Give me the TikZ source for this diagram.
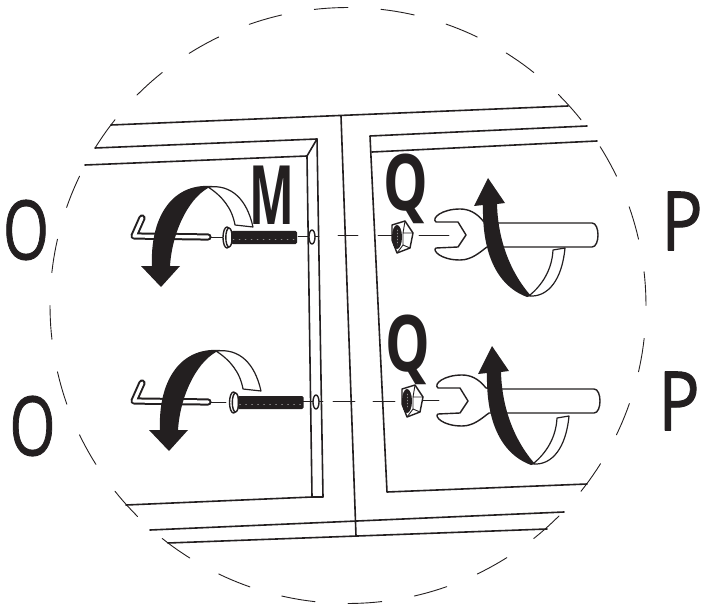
\documentclass[tikz,border=0pt]{standalone}
\usepackage{fontspec}
\setmainfont{Open Sans}
\newfontfamily\labelfont{Open Sans}[RawFeature={embolden=1.2}]
\definecolor{ink}{HTML}{231F20}
\begin{document}
\begin{tikzpicture}[x=1pt, y=-1pt, line cap=round, line join=round,
		frameline/.style={draw=ink, line width=1.6pt},
		thinline/.style={draw=ink, line width=0.9pt},
		part/.style={draw=ink, line width=1.4pt, fill=white},
		letter/.style={text=ink, inner sep=0pt, font=\fontsize{82}{82}\labelfont},
		boldletter/.style={text=ink, inner sep=0pt, font=\fontsize{78}{78}\selectfont\bfseries}]
	\useasboundingbox (0,0) rectangle (704,604);
	
	% Dashed circle
	\foreach \n [evaluate=\n as \astart using {-96.5+\n*12.857}, evaluate=\n as \aend using {-90+\n*12.857}] in {0,...,27}
		\draw[thinline, shift={(348,305.5)}, domain=\astart:\aend, samples=6] plot(\x:298);
	
	% Frame
	\draw[frameline] (111,125) -- (568,106);
	\draw[frameline] (95,148) -- (317,139) -- (323,497) -- (312,497) -- (126,505);
	\draw[frameline] (85,165) -- (307,156) -- (312,497);
	\draw[frameline] (307,156) -- (317,139);
	\draw[frameline] (341,116) -- (356,536);
	\draw[frameline] (587,126) -- (370,136) -- (387,492) -- (587,484);
	\draw[frameline] (372,152) -- (597,141);
	\draw[frameline] (150,530) -- (564,512);
	\draw[frameline] (168,543) -- (547,529);
	
	% Key, bolt and hole
	\foreach \kdy/\bdx/\bdy/\hdx in {0/0/0/0, 165/6.5/165/4} {
		\begin{scope}[yshift=-\kdy pt]
			\draw[thinline] (208,237) -- (226,237);
			\draw[ink, line width=2pt, double=white, double distance=3.2pt] (142,218) -- (134,236) -- (208,237);
		\end{scope}
		\begin{scope}[shift={(\bdx,\bdy)}]
			\draw[part] (227,237.5) ellipse (4 and 10.5);
			\draw[part] (229,237.5) ellipse (3.2 and 9.5);
			\fill[ink, rounded corners=1.5pt] (231,231) rectangle (297,244);
			\draw[white!50!ink, line width=0.5pt, dash pattern=on 1pt off 5pt] (233,239) -- (295,239);
		\end{scope}
		\begin{scope}[shift={(\hdx,\bdy)}]
			\draw[thinline] (298,236) -- (319,236);
			\draw[part] (312,237) ellipse (3 and 7);
		\end{scope}
	}
	\draw[thinline] (338,235.5) -- (358,235.5);
	\draw[thinline] (333,401) -- (355,401);
	
	% Nut
	\draw[thinline] (378,235) -- (393,235);
	\draw[thinline] (419,235) -- (449,235);
	\draw[thinline] (373,401) -- (395,401);
	\draw[thinline] (423,400) -- (439,400);
	\foreach \ndx/\ndy in {0/0, 10/164} {
		\begin{scope}[shift={(\ndx,\ndy)}]
			\draw[part] (392,225) -- (405,221) -- (413,233) -- (410,248) -- (397,253) -- (392,240) -- cycle;
			\draw[thinline] (405,221) -- (403,233) -- (413,233) (403,233) -- (403,245) -- (410,248) (403,245) -- (397,253);
			\fill[ink] (397,237) ellipse (5 and 12);
			\draw[white!50!ink, line width=0.5pt, dash pattern=on 1pt off 2pt] (397.5,230) -- (397.5,245);
		\end{scope}
	}
	
	% Spanner and arrow on the right
	\foreach \wdx/\wdy/\adx/\ady in {0/0/0/0, 2/166/4/168} {
		\begin{scope}[shift={(\wdx,\wdy)}]
			\draw[part] (436,222) -- (458,222) -- (466,235) -- (458,247) -- (436,248)
				.. controls (432,250) and (440,260) .. (460,260)
				.. controls (472,260) and (480,252) .. (487,247)
				-- (592,247) .. controls (600,247) and (600,223) .. (592,223)
				-- (498,223) -- (484,222)
				.. controls (476,212) and (468,209) .. (460,209)
				.. controls (442,209) and (431,218) .. (436,222) -- cycle;
		\end{scope}
		\begin{scope}[shift={(\adx,\ady)}]
			\fill[ink] (474,206) -- (488,178) -- (505,203) -- (497,204)
				.. controls (498,240) and (510,272) .. (531,296)
				-- (527,297) .. controls (495,285) and (482,250) .. (483,205) -- cycle;
			\draw[part, line width=1.2pt] (530,296) .. controls (548,297) and (562,280) .. (565,248) -- (553,250)
				.. controls (552,270) and (542,285) .. (530,295);
		\end{scope}
	}
	
	% Arrow on the left
	\foreach \adx/\ady in {0/0, 8/164} {
		\begin{scope}[shift={(\adx,\ady)}]
			\fill[ink] (141,266) -- (161,287) -- (180,266) -- (170,266)
				.. controls (172,234) and (187,200) .. (208,188) -- (212,186)
				.. controls (170,183) and (150,220) .. (152,266) -- cycle;
			\draw[part, line width=1.2pt] (208,187) .. controls (232,184) and (247,200) .. (253,227) -- (235,225)
				.. controls (232,208) and (222,196) .. (208,187);
		\end{scope}
	}
	
	% Labels
	\node[letter, xscale=0.72] (leftup) at (26,230) {O};
	\node[letter, xscale=0.72] (leftdown) at (32.5,426) {O};
	\node[letter, xscale=0.84] (rightup) at (682,221) {P};
	\node[letter, xscale=0.84] (rightdown) at (679,401) {P};
	\node[font=\fontsize{82}{82}\selectfont\bfseries, text=ink, inner sep=0pt, xscale=0.58] (screw) at (271.5,195) {M};
	\node[boldletter, xscale=0.72] (nutup) at (406,189) {Q};
	\node[boldletter, xscale=0.72] (nutdown) at (407.5,350) {Q};
\end{tikzpicture}
\end{document}
